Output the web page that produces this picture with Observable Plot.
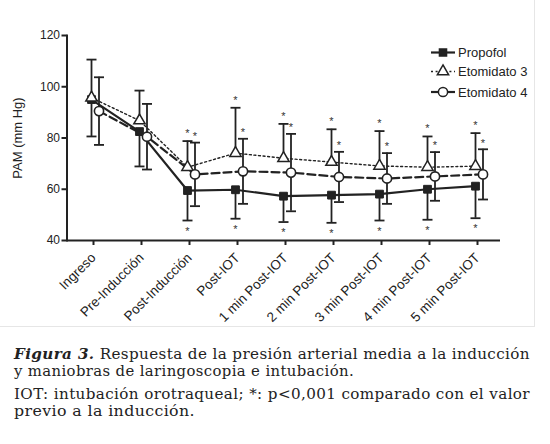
<!DOCTYPE html>
<html>
<head>
<meta charset="utf-8">
<script src="https://cdn.jsdelivr.net/npm/d3@7"></script>
<script src="https://cdn.jsdelivr.net/npm/@observablehq/plot@0.6"></script>
<style>
  html, body { margin: 0; padding: 0; background: #fff; }
  #wrap { position: relative; width: 550px; height: 444px; overflow: hidden; }
  #frame { position: absolute; left: 0; top: 0; width: 535px; height: 327px; box-sizing: border-box;
           border-right: 1px solid #e6e6e6; border-bottom: 1px solid #e6e6e6; }
  #chart { position: absolute; left: 0; top: 0; }
  #legend { position: absolute; left: 0; top: 0; pointer-events: none; }
  #caption { position: absolute; left: 14px; top: 346px; font-family: "DejaVu Serif", serif; font-size: 14px;
             line-height: 17px; color: #222; }
  #caption .line { display: block; white-space: nowrap; width: max-content; transform-origin: 0 50%; }
  #caption .p2 { margin-top: 6px; }
</style>
</head>
<body>
<div id="wrap">
  <div id="frame"></div>
  <div id="chart"></div>
  <svg id="legend" width="550" height="120"></svg>
  <div id="caption">
    <span class="line" data-w="516"><b><i>Figura 3.</i></b> Respuesta de la presión arterial media a la inducción</span>
    <span class="line" data-w="340">y maniobras de laringoscopia e intubación.</span>
    <span class="line p2" data-w="516">IOT: intubación orotraqueal; *: p&lt;0,001 comparado con el valor</span>
    <span class="line" data-w="181">previo a la inducción.</span>
  </div>
</div>
<script>
// ---- data ----
const categories = ["Ingreso", "Pre-Inducción", "Post-Inducción", "Post-IOT",
  "1 min Post-IOT", "2 min Post-IOT", "3 min Post-IOT", "4 min Post-IOT", "5 min Post-IOT"];
// Propofol: error bar drawn below the mean only; Etomidato 3: above only; Etomidato 4: both ways
const propofolMean = [95.0, 82.5, 59.5, 59.8, 57.3, 57.7, 58.1, 60.0, 61.2];
const propofolSD   = [14.4, 13.6, 11.7, 11.3, 10.1, 10.8, 10.3, 11.9, 12.5];
const etom3Mean    = [95.7, 86.8, 68.6, 74.1, 72.1, 70.6, 69.1, 68.6, 69.0];
const etom3SD      = [14.9, 11.7, 10.2, 17.7, 13.4, 12.8, 13.6, 12.0, 12.9];
const etom4Mean    = [90.5, 80.5, 65.8, 67.0, 66.5, 64.8, 64.2, 65.0, 65.8];
const etom4SD      = [13.2, 12.8, 12.4, 12.7, 15.1, 9.8, 9.9, 9.5, 9.8];
const significant  = [false, false, true, true, true, true, true, true, true];
const yTicks = [40, 60, 80, 100, 120];
const seriesNames = ["Propofol", "Etomidato 3", "Etomidato 4"];

const rows = (mean, sd, up, down) => categories.map((c, i) => ({
  cat: c, mean: mean[i],
  lo: down ? mean[i] - sd[i] : mean[i],
  hi: up ? mean[i] + sd[i] : mean[i],
  sig: significant[i]
}));
const prop = rows(propofolMean, propofolSD, false, true);
const et3 = rows(etom3Mean, etom3SD, true, false);
const et4 = rows(etom4Mean, etom4SD, true, true);

const ink = "#222";
const off4 = 7.5; // horizontal offset of Etomidato 4 group

// horizontal cap symbol for error bars
const capSymbol = {draw(context) { context.moveTo(-5, 0); context.lineTo(5, 0); }};

function errorBars(data, dx, which) {
  const marks = [Plot.ruleX(data, {x: "cat", y1: "lo", y2: "hi", stroke: ink, strokeWidth: 1.8, dx})];
  which.forEach(key => marks.push(
    Plot.dot(data, {x: "cat", y: key, symbol: capSymbol, fill: "none", stroke: ink, strokeWidth: 1.8, dx})));
  return marks;
}

const astStyle = {text: () => "*", fill: "#333", fontSize: 11, lineAnchor: "middle", fontFamily: "Liberation Sans, Arial, sans-serif"};

const chart = Plot.plot({
  width: 550,
  height: 327,
  marginLeft: 66.5,
  marginRight: 50,
  marginTop: 35,
  marginBottom: 87,
  style: {fontFamily: "Liberation Sans, Arial, sans-serif", fontSize: "13px", color: ink, background: "transparent", overflow: "visible"},
  x: {type: "point", domain: categories, padding: 0.5},
  y: {domain: [40, 120]},
  marks: [
    Plot.axisY({ticks: yTicks, tickSize: 5, tickPadding: 2, strokeWidth: 2, fontSize: 12, label: null}),
    Plot.axisY({ticks: [], label: "PAM (mm Hg)", labelAnchor: "center", labelArrow: "none", labelOffset: 54, fontSize: 13}),
    Plot.axisX({tickSize: 5, tickPadding: 10, dx: 2, tickRotate: -45, strokeWidth: 2, fontSize: 13.5, label: null}),
    Plot.frame({anchor: "left", strokeWidth: 2, stroke: ink}),
    Plot.ruleY([40], {stroke: ink, strokeWidth: 2}),
    // lines
    Plot.line(prop, {x: "cat", y: "mean", stroke: ink, strokeWidth: 2.2}),
    Plot.line(et3, {x: "cat", y: "mean", stroke: ink, strokeWidth: 1.4, strokeDasharray: "2,2.6"}),
    Plot.line(et4, {x: "cat", y: "mean", stroke: ink, strokeWidth: 2.2, strokeDasharray: "8,4", dx: off4}),
    // error bars
    ...errorBars(prop, 0, ["lo"]),
    ...errorBars(et3, 0, ["hi"]),
    ...errorBars(et4, off4, ["lo", "hi"]),
    // markers
    Plot.dot(prop, {x: "cat", y: "mean", symbol: "square", r: 4.4, fill: ink, stroke: ink, strokeWidth: 1}),
    Plot.dot(et3, {x: "cat", y: "mean", symbol: "triangle", r: 4.2, fill: "white", stroke: ink, strokeWidth: 1.5}),
    Plot.dot(et4, {x: "cat", y: "mean", symbol: "circle", r: 4.6, fill: "white", stroke: ink, strokeWidth: 1.6, dx: off4}),
    // significance asterisks
    Plot.text(et3.filter(d => d.sig), {x: "cat", y: "hi", dy: -7.7, ...astStyle}),
    Plot.text(et4.filter(d => d.sig), {x: "cat", y: "hi", dy: -6.2, dx: off4, ...astStyle}),
    Plot.text(prop.filter(d => d.sig), {x: "cat", y: "lo", dy: 10.6, ...astStyle})
  ]
});
document.getElementById("chart").appendChild(chart);

// ---- legend ----
const lg = d3.select("#legend");
const legendItems = [
  {name: seriesNames[0], y: 52.5, dash: null, sw: 2.2, sym: d3.symbolSquare, size: Math.PI * 4.0 * 4.0, fill: ink},
  {name: seriesNames[1], y: 71.5, dash: "2,2.6", sw: 1.4, sym: d3.symbolTriangle, size: Math.PI * 4.2 * 4.2, fill: "white"},
  {name: seriesNames[2], y: 92, dash: null, sw: 2.2, sym: d3.symbolCircle, size: Math.PI * 4.6 * 4.6, fill: "white"}
];
legendItems.forEach(it => {
  lg.append("line").attr("x1", 431).attr("x2", 455).attr("y1", it.y).attr("y2", it.y)
    .attr("stroke", ink).attr("stroke-width", it.sw).attr("stroke-dasharray", it.dash);
  lg.append("path").attr("d", d3.symbol(it.sym, it.size)()).attr("transform", `translate(443,${it.y})`)
    .attr("fill", it.fill).attr("stroke", ink).attr("stroke-width", 1.5);
  lg.append("text").attr("x", 458).attr("y", it.y).attr("dy", "0.35em")
    .attr("font-family", "Liberation Sans, Arial, sans-serif").attr("font-size", 13).attr("fill", ink).text(it.name);
});

// ---- fit caption lines to the reference widths (mimic the wide book face) ----
document.querySelectorAll("#caption .line").forEach(el => {
  const target = +el.dataset.w;
  el.style.letterSpacing = "0.35px";
  const w = el.getBoundingClientRect().width;
  el.style.transform = `scaleX(${target / w})`;
});
</script>
</body>
</html>
